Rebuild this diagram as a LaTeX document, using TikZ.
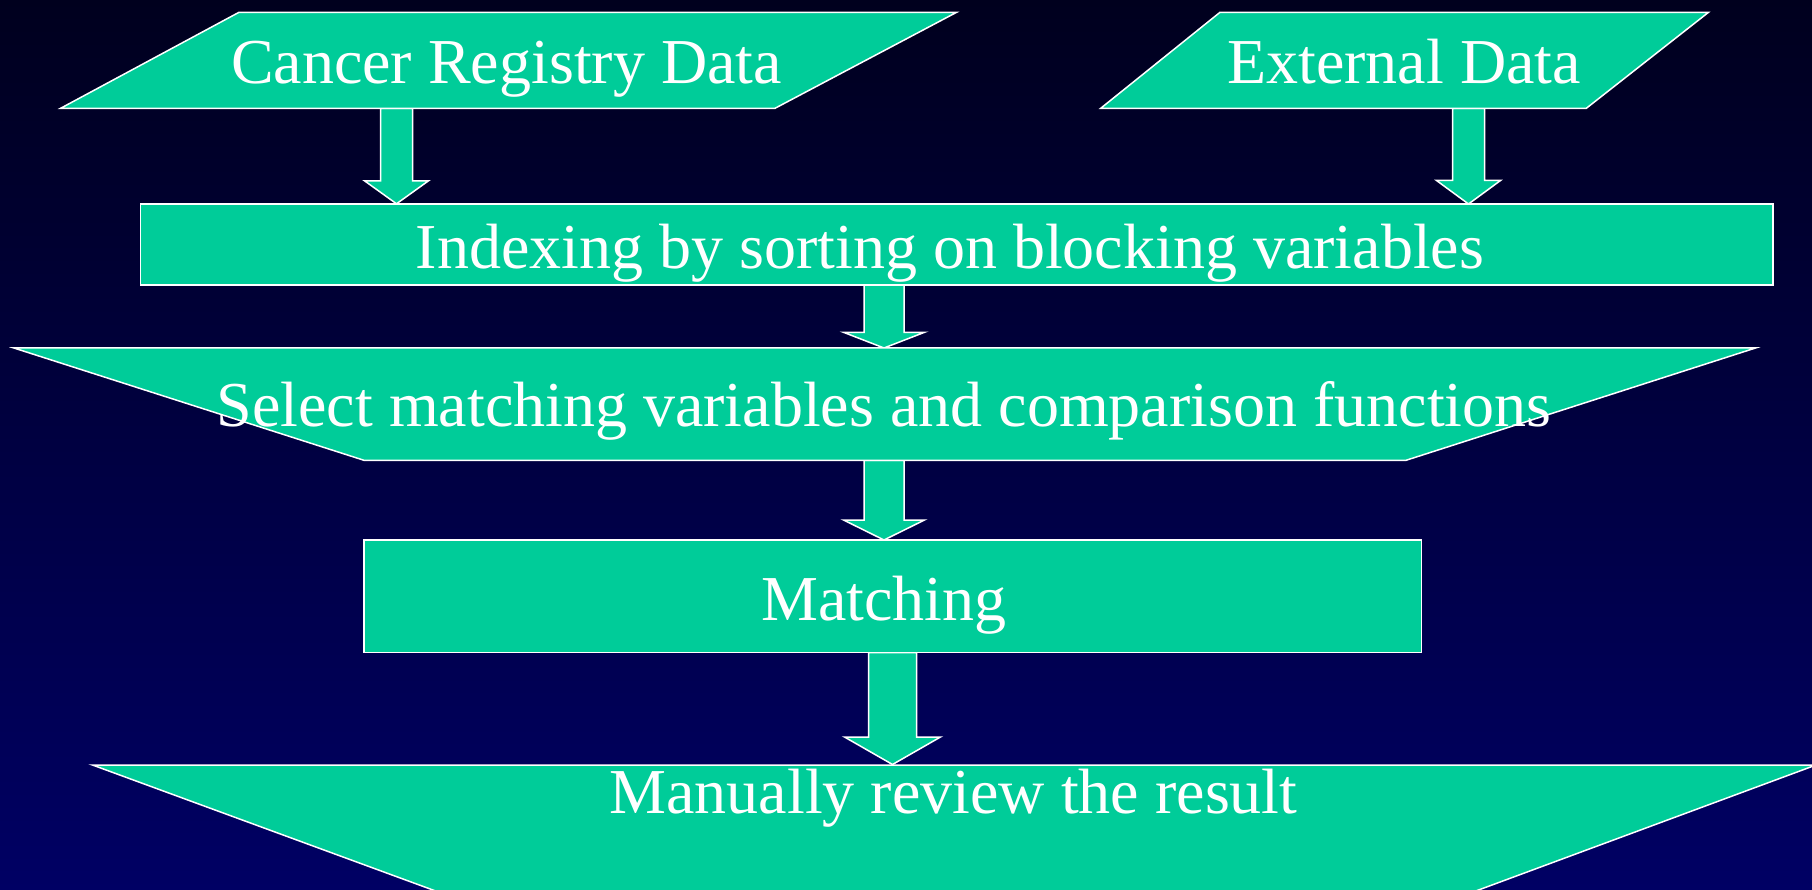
\documentclass[tikz,border=0pt]{standalone}
\usepackage{fontspec}
\setmainfont{Liberation Serif}
\usetikzlibrary{calc}
\definecolor{boxgreen}{RGB}{0,204,153}
\definecolor{bgtop}{RGB}{0,0,30}
\definecolor{bgbot}{RGB}{0,0,100}
\tikzset{
  shapebox/.style={fill=boxgreen, draw=white, line width=1.5pt, line join=miter},
  txt/.style={text=white, font=\fontsize{64}{70}\selectfont, inner sep=0pt, anchor=base},
  blockarrow/.style={fill=boxgreen, draw=white, line width=1.5pt, line join=miter}
}
% #1 start, #2 tip, #3 shaft half width, #4 head half width, #5 head length
\newcommand\fatarrow[5]{%
  \draw[blockarrow] ($(#1)+(-#3,0)$) -- ($(#1)+(#3,0)$) -- ($(#2)+(#3,-#5)$)
    -- ($(#2)+(#4,-#5)$) -- (#2) -- ($(#2)+(-#4,-#5)$) -- ($(#2)+(-#3,-#5)$) -- cycle;}
\begin{document}
\begin{tikzpicture}[x=1pt,y=-1pt]
\useasboundingbox (0,0) rectangle (1812,890);
\shade[top color=bgtop, bottom color=bgbot] (0,0) rectangle (1812,890);
\clip (0,0) rectangle (1812,890);

% connector end points
\coordinate (a1s) at (396.5,108.3);   \coordinate (a1t) at (396.5,203.8);
\coordinate (a2s) at (1468.5,108.3);  \coordinate (a2t) at (1468.5,204);
\coordinate (a3s) at (884,285);       \coordinate (a3t) at (884,348);
\coordinate (a4s) at (884,460.3);     \coordinate (a4t) at (884,540);
\coordinate (a5s) at (892.5,652.5);   \coordinate (a5t) at (892.5,764.5);

% block arrows (drawn first, shapes overlap their ends)
\fatarrow{a1s}{a1t}{16}{32}{23}
\fatarrow{a2s}{a2t}{16}{32}{23.5}
\fatarrow{a3s}{a3t}{20}{40.5}{15.7}
\fatarrow{a4s}{a4t}{20}{40.5}{20}
\fatarrow{a5s}{a5t}{24}{48}{27.5}

% shapes
\draw[shapebox] (239,12.3) -- (956.6,12.3) -- (775,108.3) -- (60.6,108.3) -- cycle;
\draw[shapebox] (1220,12.3) -- (1708.5,12.3) -- (1586.3,108.3) -- (1100.7,108.3) -- cycle;
\draw[shapebox] (140.3,204) rectangle (1773,285);
\draw[shapebox] (13.9,348) -- (1755.5,348) -- (1406,460.3) -- (364,460.3) -- cycle;
\draw[shapebox] (364,540) rectangle (1421.5,652.5);
\draw[shapebox] (92.5,765) -- (1816,765) -- (1411,915) -- (501,915) -- cycle;

% texts
\node[txt] (cancer)   at (506.5,83.3) {Cancer Registry Data};
\node[txt] (external) at (1404,83.3)  {External Data};
\node[txt] (indexing) at (950,268.3)  {Indexing by sorting on blocking variables};
\node[txt] (select)   at (884,426.7)  {Select matching variables and comparison functions};
\node[txt] (matching) at (884,620)    {Matching};
\node[txt] (manual)   at (953.5,813)  {Manually review the result};
\end{tikzpicture}
\end{document}
